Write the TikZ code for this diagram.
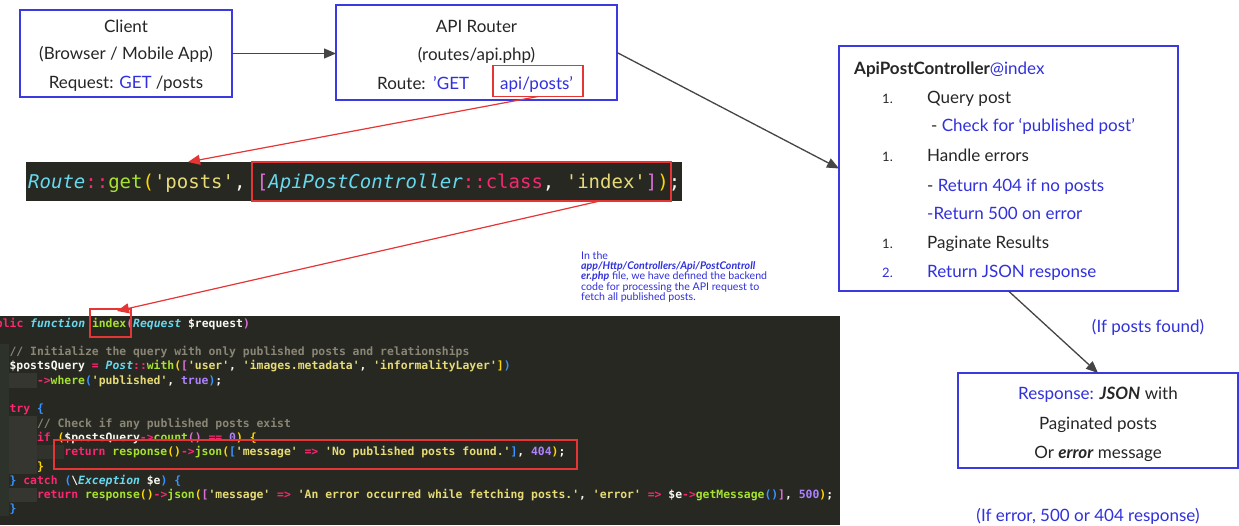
\documentclass[tikz,border=0pt]{standalone}
\usepackage{fontspec}
\setmainfont{Lato}
\setmonofont{DejaVu Sans Mono}
\usetikzlibrary{arrows.meta}
\definecolor{bx}{HTML}{3A3AE0}
\definecolor{tb}{HTML}{3030DD}
\definecolor{gry}{HTML}{454545}
\definecolor{rd}{HTML}{E53535}
\definecolor{codebg}{HTML}{272822}
\definecolor{guide}{HTML}{34362F}
\definecolor{gutter}{HTML}{2D332B}
\definecolor{mkpink}{HTML}{F92672}
\definecolor{mkblue}{HTML}{66D9EF}
\definecolor{mkgreen}{HTML}{A6E22E}
\definecolor{mkyellow}{HTML}{E6DB74}
\definecolor{mkpurple}{HTML}{AE81FF}
\definecolor{mkcomment}{HTML}{8A8676}
\definecolor{mkwhite}{HTML}{F8F8F2}
\definecolor{mkgold}{HTML}{FFD700}
\definecolor{mkmag}{HTML}{DA70D6}
\definecolor{mkbr}{HTML}{3794FF}
\newcommand\cPk[1]{\textcolor{mkpink}{#1}}
\newcommand\cBl[1]{\textcolor{mkblue}{#1}}
\newcommand\cBi[1]{\textcolor{mkblue}{\itshape #1}}
\newcommand\cGr[1]{\textcolor{mkgreen}{#1}}
\newcommand\cYe[1]{\textcolor{mkyellow}{#1}}
\newcommand\cPu[1]{\textcolor{mkpurple}{#1}}
\newcommand\cCm[1]{\textcolor{mkcomment}{#1}}
\newcommand\cGo[1]{\textcolor{mkgold}{#1}}
\newcommand\cMg[1]{\textcolor{mkmag}{#1}}
\newcommand\cBr[1]{\textcolor{mkbr}{#1}}
\begin{document}
\begin{tikzpicture}[x=1pt,y=-1pt,
  box/.style={draw=bx, line width=1.4pt, inner sep=0pt, outer sep=0pt},
  redbox/.style={draw=rd, line width=1.4pt, inner sep=0pt, outer sep=0pt},
  txt/.style={inner sep=0pt, anchor=base, font=\fontsize{17}{20}\selectfont, text=black!85},
  ltxt/.style={txt, anchor=base west},
  note/.style={inner sep=0pt, anchor=base west, font=\fontsize{10.6}{10.6}\selectfont, text=tb},
  code/.style={inner sep=0pt, anchor=base west, font=\ttfamily\bfseries\fontsize{11.4}{13}\selectfont, text=mkwhite},
  bigcode/.style={inner sep=0pt, anchor=base west, font=\ttfamily\fontsize{19}{22}\selectfont, text=mkwhite},
  garrow/.style={draw=gry, line width=1.3pt, -{Triangle[length=12pt,width=10pt]}},
  rarrow/.style={draw=rd, line width=1.2pt, -{Triangle[length=12pt,width=10pt]}}
]
\useasboundingbox (0,0) rectangle (1239,525);
\fill[white] (0,0) rectangle (1239,525);

% ---- Client
\node[box, minimum width=212pt, minimum height=87pt] (client) at (126,53.5) {};
\node[txt] (client1) at (126,32) {Client};
\node[txt] (client2) at (126,59) {(Browser / Mobile App)};
\node[txt] (client3) at (126,88) {Request: \textcolor{tb}{GET} /posts};

% ---- API Router
\node[box, minimum width=281pt, minimum height=95pt] (router) at (476.5,52.5) {};
\node[txt] (router1) at (476.5,32) {API Router};
\node[txt] (router2) at (476.5,60) {(routes/api.php)};
\node[ltxt] (router3) at (377,89) {Route:};
\node[ltxt, text=tb] (router4) at (433,89) {'GET};
\node[ltxt, text=tb] (router5) at (500,89) {api/posts'};
\node[redbox, minimum width=90pt, minimum height=31pt] (apibox) at (538,81) {};

% ---- Controller
\node[box, minimum width=339pt, minimum height=245pt] (ctrl) at (1008.5,168.5) {};
\node[ltxt] (c0) at (854,74) {\textbf{ApiPostController}\textcolor{tb}{@index}};
\node[ltxt] (c1n) at (882,103) {\fontsize{13}{15}\selectfont 1.};
\node[ltxt] (c1) at (927,103) {Query post};
\node[ltxt, text=tb] (c1a) at (931,131) {\textcolor{black!85}{-} Check for ‘published post’};
\node[ltxt] (c2n) at (882,161) {\fontsize{13}{15}\selectfont 1.};
\node[ltxt] (c2) at (927,161) {Handle errors};
\node[ltxt, text=tb] (c2a) at (927,191) {\textcolor{black!85}{-} Return 404 if no posts};
\node[ltxt, text=tb] (c2b) at (927,219) {-Return 500 on error};
\node[ltxt] (c3n) at (882,248) {\fontsize{13}{15}\selectfont 1.};
\node[ltxt] (c3) at (927,248) {Paginate Results};
\node[ltxt, text=tb] (c4n) at (882,277) {\fontsize{13}{15}\selectfont 2.};
\node[ltxt, text=tb] (c4) at (927,277) {Return JSON response};

% ---- Response
\node[box, minimum width=280pt, minimum height=95pt] (resp) at (1098,420.5) {};
\node[txt] (r1) at (1098,399) {\textcolor{tb}{Response:} \textbf{\itshape JSON} with};
\node[txt] (r2) at (1098,429) {Paginated posts};
\node[txt] (r3) at (1098,458) {Or \textbf{\itshape error} message};
\node[txt, text=tb] (found) at (1148,332) {(If posts found)};
\node[txt, text=tb] (err) at (1088,521) {(If error, 500 or 404 response)};

% ---- Note
\node[note] (n1) at (581,259) {In the};
\node[note] (n2) at (581,269.5) {\textbf{\itshape app/Http/Controllers/Api/PostControll}};
\node[note] (n3) at (581,279.5) {\textbf{\itshape er.php} file, we have defined the backend};
\node[note] (n4) at (581,290) {code for processing the API request to};
\node[note] (n5) at (581,300) {fetch all published posts.};

% ---- Code strip 1
\node[fill=codebg, inner sep=0pt, outer sep=0pt, minimum width=656pt, minimum height=39pt] (strip) at (354,181.5) {};
\node[bigcode] (route) at (28,188) {\cBi{Route}\cPk{::}\cGr{get}\cGo{(}\cYe{'posts'}, \cMg{[}\cBi{ApiPostController}\cPk{::class}, \cYe{'index'}\cMg{]}\cGo{)};};
\node[redbox, minimum width=419pt, minimum height=39pt] (clsbox) at (461.5,181.5) {};

% ---- Code block 2
\node[fill=codebg, inner sep=0pt, outer sep=0pt, minimum width=840pt, minimum height=209pt] (code) at (420,420.5) {};
\fill[gutter] (0,344) rectangle (9,516);
\fill[guide] (9.4,373) rectangle (36.8,388);
\fill[guide] (9.4,416) rectangle (36.8,474);
\fill[guide!70!codebg] (36.8,445) rectangle (64.2,459);
\fill[guide] (9.4,488) rectangle (36.8,502);
\begin{scope}
\clip (0,316) rectangle (840,525);
\node[code] (l1) at (-18,327) {\cPk{public} \cBi{function} \cGr{index}\cMg{(}\cBi{Request} \$request\cMg{)}};
\node[code] (l2) at (9.4,355.6) {\cCm{// Initialize the query with only published posts and relationships}};
\node[code] (l3) at (9.4,369.9) {\$postsQuery \cPk{=} \cBi{Post}\cPk{::}\cGr{with}\cGo{(}\cMg{[}\cYe{'user'}, \cYe{'images.metadata'}, \cYe{'informalityLayer'}\cGo{]}\cBr{)}};
\node[code] (l4) at (36.8,384.2) {\cPk{->}\cGr{where}\cBr{(}\cYe{'published'}, \cPu{true}\cBr{)};};
\node[code] (l5) at (9.4,412.8) {\cPk{try} \cBr{\{}};
\node[code] (l6) at (36.8,427.1) {\cCm{// Check if any published posts exist}};
\node[code] (l7) at (36.8,441.4) {\cPk{if} \cGo{(}\$postsQuery\cPk{->}\cGr{count}\cMg{()} \cPk{==} \cPu{0}\cGo{)} \cGo{\{}};
\node[code] (l8) at (64.2,455.7) {\cPk{return} \cGr{response}\cGo{()}\cPk{->}\cGr{json}\cGo{(}\cBr{[}\cYe{'message'} \cPk{=>} \cYe{'No published posts found.'}\cBr{]}, \cPu{404}\cGo{)};};
\node[code] (l9) at (36.8,470) {\cGo{\}}};
\node[code] (l10) at (9.4,484.3) {\cBr{\}} \cPk{catch} \cBr{(}\textbackslash\cBi{Exception} \$e\cBr{)} \cBr{\{}};
\node[code] (l11) at (36.8,498.6) {\cPk{return} \cGr{response}\cGo{()}\cPk{->}\cGr{json}\cGo{(}\cMg{[}\cYe{'message'} \cPk{=>} \cYe{'An error occurred while fetching posts.'}, \cYe{'error'} \cPk{=>} \$e\cPk{->}\cGr{getMessage}\cBr{()}\cMg{]}, \cPu{500}\cGo{)};};
\node[code] (l12) at (9.4,512.9) {\cBr{\}}};
\end{scope}
\node[redbox, minimum width=41pt, minimum height=28pt] (idxbox) at (110.5,323) {};
\node[redbox, minimum width=523pt, minimum height=29pt] (retbox) at (315.5,454.5) {};

% ---- Connectors
\coordinate (t1) at (188,162);
\coordinate (t2) at (117,311);
\coordinate (s2) at (600,201);
\draw[garrow] (client.east) -- (client.east -| router.west);
\draw[garrow] (router.east) -- (ctrl.west);
\draw[garrow] (ctrl.south) -- (resp.north);
\draw[rarrow] (apibox.south) -- (t1);
\draw[rarrow] (s2) -- (t2);
\end{tikzpicture}
\end{document}
